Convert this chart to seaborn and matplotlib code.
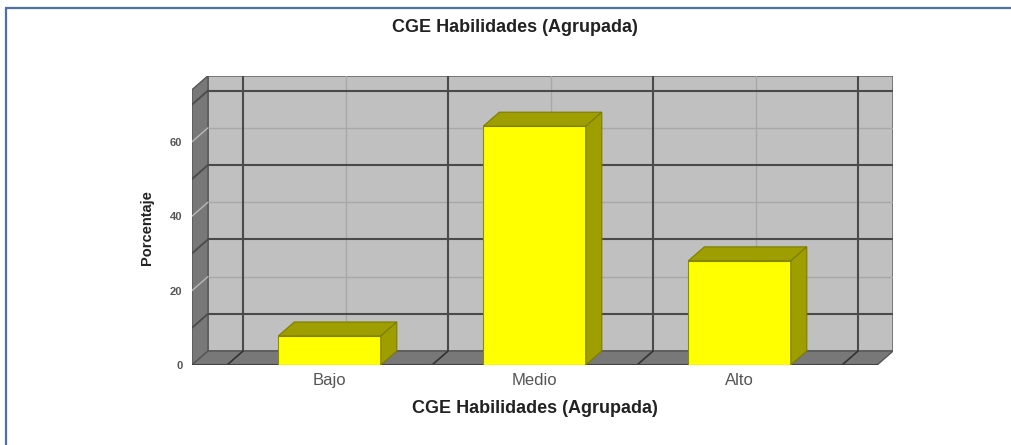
import matplotlib
matplotlib.use('Agg')
import matplotlib.pyplot as plt
import numpy as np
import pandas as pd
import seaborn as sns
from matplotlib.patches import Polygon, Rectangle
from matplotlib.lines import Line2D

categorias = ['Bajo', 'Medio', 'Alto']
porcentajes = [7.8, 64.2, 28.0]
y_ticks = [0, 20, 40, 60]
grid_major = [10, 30, 50, 70]
grid_minor = [20, 40, 60]
titulo = 'CGE Habilidades (Agrupada)'

sns.set_style('white')
plt.rcParams['font.family'] = ['Liberation Sans', 'DejaVu Sans']

W, H = 1012, 445
fig = plt.figure(figsize=(W / 100, H / 100), dpi=100)
# axes covers the front plane plus the depth offset of the back wall
ax = fig.add_axes([192 / W, 1 - 365 / H, (893 - 192) / W, (365 - 76) / H])

x_left, x_right = -0.671, 2.671
y_top = 74
dx, dy = 0.078, 3.76

wall_back = '#c0c0c0'
wall_side = '#787878'
dark = '#4a4a4a'
light = '#a8a8a8'

df = pd.DataFrame({'cat': categorias, 'pct': porcentajes})
sns.barplot(data=df, x='cat', y='pct', color='#ffff00', saturation=1, width=0.5,
            edgecolor='#8c8c00', linewidth=0.8, ax=ax, zorder=3)
bars = list(ax.patches)

# back wall, left wall, floor
ax.add_patch(Rectangle((x_left + dx, dy), x_right - x_left, y_top, facecolor=wall_back,
                       edgecolor='#6a6a6a', lw=1.2, zorder=0))
ax.add_patch(Polygon([(x_left, 0), (x_left + dx, dy), (x_left + dx, y_top + dy), (x_left, y_top)],
                     facecolor=wall_side, edgecolor='#555555', lw=1, zorder=1))
ax.add_patch(Polygon([(x_left, 0), (x_right, 0), (x_right + dx, dy), (x_left + dx, dy)],
                     facecolor=wall_side, edgecolor='#555555', lw=1, zorder=1))

# grid on the walls
for v in grid_minor:
    ax.plot([x_left + dx, x_right + dx], [v + dy, v + dy], color=light, lw=1, zorder=0.5)
    ax.plot([x_left, x_left + dx], [v, v + dy], color='#b8b8b8', lw=1, zorder=1.5)
for v in grid_major:
    ax.plot([x_left + dx, x_right + dx], [v + dy, v + dy], color=dark, lw=1.5, zorder=0.6)
    ax.plot([x_left, x_left + dx], [v, v + dy], color=dark, lw=1.3, zorder=1.5)
n = len(categorias)
for c in range(n):
    ax.plot([c + dx, c + dx], [dy, y_top + dy], color=light, lw=1, zorder=0.5)
for b in np.arange(n + 1) - 0.5:
    ax.plot([b + dx, b + dx], [dy, y_top + dy], color=dark, lw=1.5, zorder=0.6)
    ax.plot([b, b + dx], [0, dy], color='#333333', lw=1.2, zorder=1.5)
ax.plot([x_left, x_right], [0, 0], color='#444444', lw=1.5, zorder=1.6)

face_dark = '#9e9e00'
for bar in bars:
    x0 = bar.get_x()
    x1 = x0 + bar.get_width()
    h = bar.get_height()
    ax.add_patch(Polygon([(x0, h), (x1, h), (x1 + dx, h + dy), (x0 + dx, h + dy)],
                         facecolor=face_dark, edgecolor='#7c7c00', lw=0.8, zorder=3))
    ax.add_patch(Polygon([(x1, 0), (x1 + dx, dy), (x1 + dx, h + dy), (x1, h)],
                         facecolor=face_dark, edgecolor='#7c7c00', lw=0.8, zorder=3))

ax.set_xlim(x_left, x_left + 701 / 205)
ax.set_ylim(0, 289 / 3.72)

for s in ax.spines.values():
    s.set_visible(False)
ax.set_yticks(y_ticks)
ax.set_yticklabels([str(t) for t in y_ticks], fontsize=8, fontweight='bold', color='#555555')
ax.tick_params(axis='y', length=0, pad=7)
ax.tick_params(axis='x', length=0, pad=6, labelsize=12, labelcolor='#555555')

ax.set_xlabel(titulo, fontsize=13, fontweight='bold', color='#222222')
ax.xaxis.set_label_coords((534.5 - 192) / 701, (365 - 400) / 289)
ax.set_ylabel('Porcentaje', fontsize=10.5, fontweight='bold', color='#222222')
ax.yaxis.set_label_coords((154 - 192) / 701, (365 - 227.5) / 289)

fig.text(515 / W, 1 - 28 / H, titulo, ha='center', va='center', fontsize=13,
         fontweight='bold', color='#222222')

# frame around the output
fig.add_artist(Line2D([6 / W, 1], [1 - 8 / H, 1 - 8 / H], color='#4f6fa8', lw=1.6))
fig.add_artist(Line2D([6 / W, 6 / W], [0, 1 - 8 / H], color='#4f6fa8', lw=1.6))

fig.savefig('out.png', dpi=100)
